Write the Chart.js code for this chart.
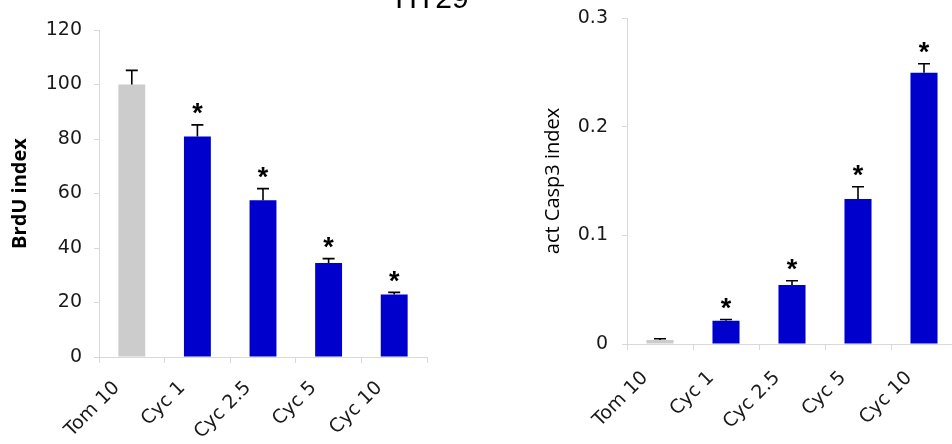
<!DOCTYPE html>
<html>
<head>
<meta charset="utf-8">
<script src="https://cdn.jsdelivr.net/npm/chart.js@4/dist/chart.umd.min.js"></script>
<style>
  html, body { margin: 0; padding: 0; background: #ffffff; overflow: hidden; width: 952px; height: 444px; }
  #wrap { position: relative; width: 952px; height: 444px; overflow: hidden; }
  #left { position: absolute; left: 0; top: 0; }
  #right { position: absolute; left: 480px; top: 0; }
  #title { position: absolute; left: 332px; width: 200px; top: -17px; text-align: center;
           font-family: "Liberation Sans", Arial, sans-serif; font-size: 30px; line-height: 30px; color: #000; }
</style>
</head>
<body>
<div id="wrap">
  <canvas id="left" width="480" height="444"></canvas>
  <canvas id="right" width="500" height="444"></canvas>
  <div id="title">HT29</div>
</div>
<script>
// ---- data ----
const categories = ["Tom 10", "Cyc 1", "Cyc 2.5", "Cyc 5", "Cyc 10"];
const brduValues = [100, 80.9, 57.5, 34.5, 22.9];
const brduErrors = [5.2, 4.3, 4.3, 1.6, 0.8];
const casp3Values = [0.0037, 0.0214, 0.0543, 0.1334, 0.2496];
const casp3Errors = [0.0012, 0.0012, 0.0039, 0.0113, 0.0083];
const significant = [false, true, true, true, true];
const brduTicks = [0, 20, 40, 60, 80, 100, 120];
const casp3Ticks = [0, 0.1, 0.2, 0.3];
const barColors = ["#cccccc", "#0000cc", "#0000cc", "#0000cc", "#0000cc"];

const axisColor = "#d9d9d9";
const textColor = "#1a1a1a";
const tickFont = { family: "DejaVu Sans", size: 19 };

const errorBarPlugin = {
  id: "errorBars",
  afterDatasetsDraw(chart, args, opts) {
    const ctx = chart.ctx;
    const yScale = chart.scales.y;
    const meta = chart.getDatasetMeta(0);
    const vals = chart.data.datasets[0].data;
    const errs = opts.errors;
    ctx.save();
    ctx.strokeStyle = "#000";
    ctx.lineWidth = 1.6;
    ctx.fillStyle = "#000";
    ctx.font = "bold 27px 'Liberation Sans', Arial, sans-serif";
    ctx.textAlign = "center";
    ctx.textBaseline = "middle";
    meta.data.forEach((bar, i) => {
      const x = bar.x;
      const y0 = bar.y;
      const yTop = yScale.getPixelForValue(vals[i] + errs[i]);
      ctx.beginPath();
      ctx.moveTo(x, y0);
      ctx.lineTo(x, yTop);
      ctx.moveTo(x - 6, yTop);
      ctx.lineTo(x + 6, yTop);
      ctx.stroke();
      if (opts.sig[i]) {
        ctx.fillText("*", x, yTop - 10);
      }
    });
    ctx.restore();
  }
};

function makeChart(id, values, errors, ticks, yTitle, yTitleBold, titlePad, yWidth, xHeight, tickPad, xPad, pad) {
  return new Chart(document.getElementById(id), {
    type: "bar",
    data: {
      labels: categories,
      datasets: [{
        data: values,
        backgroundColor: barColors,
        borderWidth: 0,
        categoryPercentage: 1.0,
        barPercentage: 0.41
      }]
    },
    options: {
      responsive: false,
      animation: false,
      events: [],
      layout: { padding: pad },
      plugins: {
        legend: { display: false },
        tooltip: { enabled: false },
        errorBars: { errors: errors, sig: significant }
      },
      scales: {
        x: {
          offset: true,
          grid: { display: true, drawOnChartArea: false, drawTicks: true, tickLength: 6, color: axisColor, offset: true },
          border: { display: true, color: axisColor, width: 1 },
          ticks: { color: textColor, font: tickFont, minRotation: 45, maxRotation: 45, padding: xPad,
                   labelOffset: -15, autoSkip: false },
          afterFit(scale) { scale.height = xHeight; }
        },
        y: {
          min: ticks[0],
          max: ticks[ticks.length - 1],
          afterBuildTicks(scale) { scale.ticks = ticks.map(v => ({ value: v })); },
          grid: { display: true, drawOnChartArea: false, drawTicks: true, tickLength: 5, color: axisColor },
          border: { display: true, color: axisColor, width: 1 },
          ticks: { color: textColor, font: tickFont, padding: tickPad,
                   callback: (v) => String(v) },
          title: { display: true, text: yTitle, color: "#000",
                   font: { family: "Open Sans", size: 20, weight: yTitleBold ? "bold" : "normal" },
                   padding: { top: titlePad, bottom: 0 } },
          afterFit(scale) { scale.width = yWidth; scale.paddingTop = 0; scale.paddingBottom = 0; }
        }
      }
    },
    plugins: [errorBarPlugin]
  });
}

makeChart("left", brduValues, brduErrors, brduTicks, "BrdU index", true, 8, 99, 87, 12, 14,
          { top: 30, right: 53, bottom: 0, left: 0 });
makeChart("right", casp3Values, casp3Errors, casp3Ticks, "act Casp3 index", false, 61, 147, 100, 14, 17,
          { top: 18, right: 23, bottom: 0, left: 0 });
</script>
</body>
</html>
